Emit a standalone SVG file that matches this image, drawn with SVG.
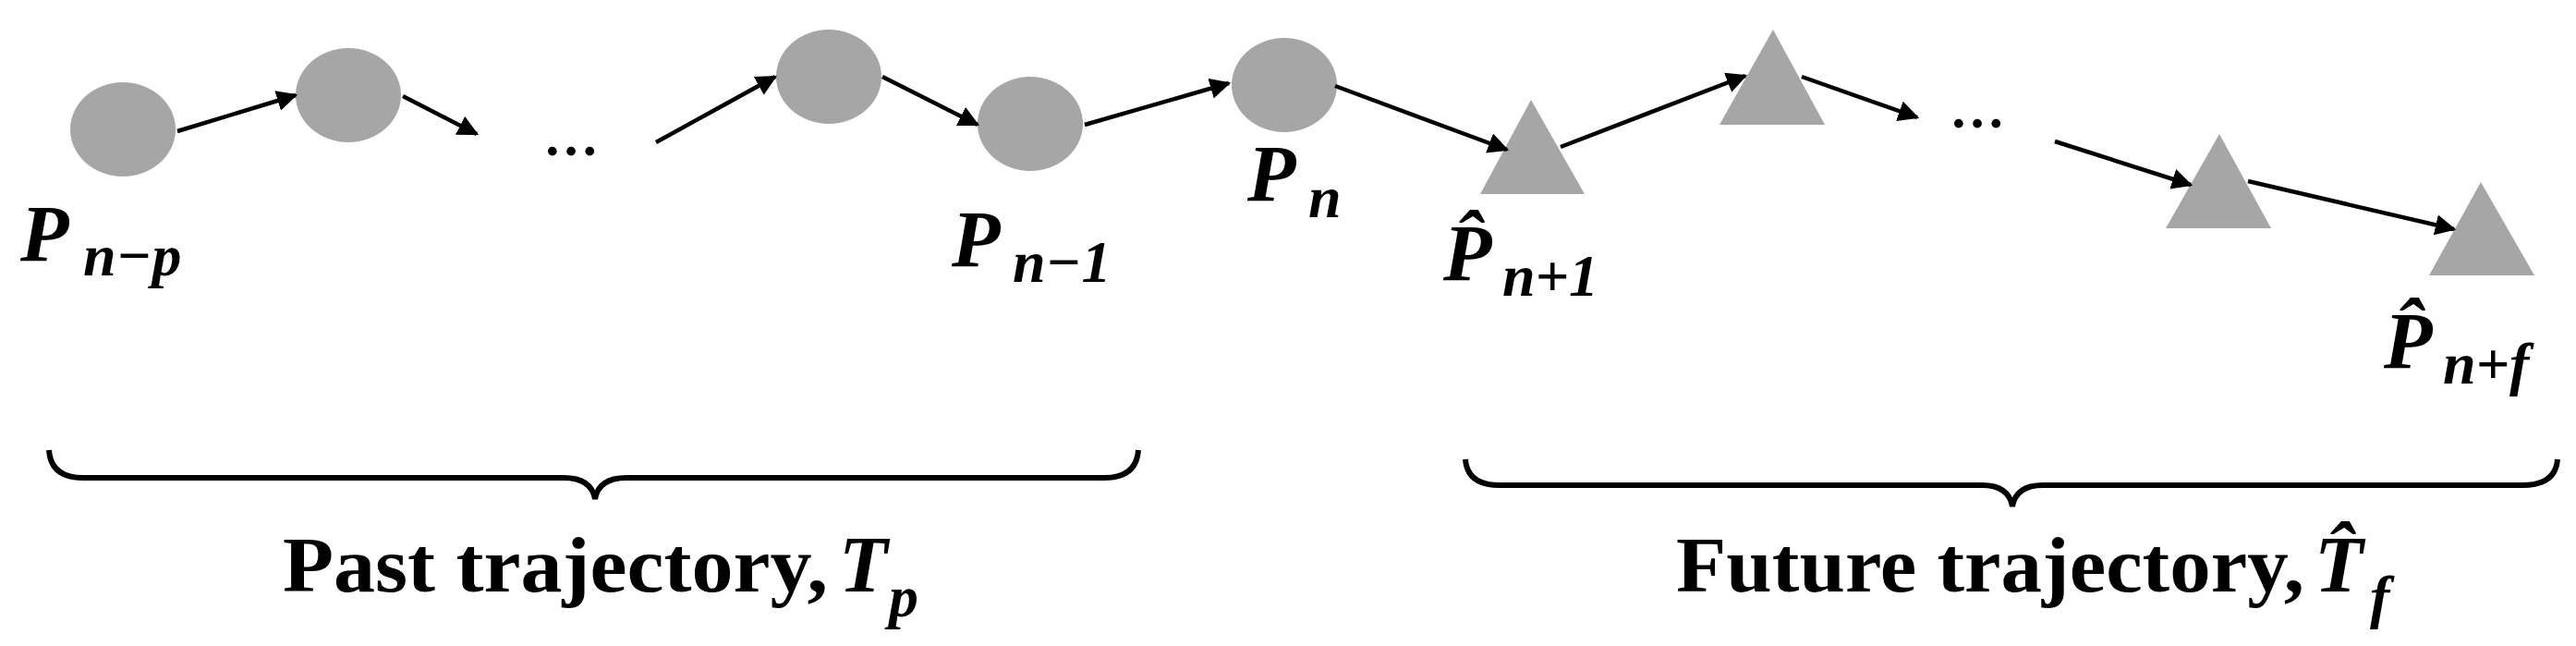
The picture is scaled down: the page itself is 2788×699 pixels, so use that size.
<svg xmlns="http://www.w3.org/2000/svg" width="2788" height="699" viewBox="0 0 2788 699">
<style>
.n{fill:#a6a6a6}
.c line{stroke:#000;stroke-width:4.5;marker-end:url(#ah)}
.lb{font-family:"Liberation Serif",serif;font-weight:bold;font-style:italic;fill:#000}
.big{font-size:86px}
.sub{font-size:64px}
.cap{font-family:"Liberation Serif",serif;font-weight:bold;font-size:84px;fill:#000}
.dots{font-family:"Liberation Serif",serif;font-weight:bold;font-size:60px}
.br{fill:none;stroke:#000;stroke-width:6}
</style>
<defs>
<marker id="ah" viewBox="0 0 10 10" refX="9" refY="5" markerWidth="5" markerHeight="5" orient="auto" markerUnits="strokeWidth">
<path d="M0,0L10,5L0,10z" fill="#000"/>
</marker>
</defs>
<rect width="2788" height="699" fill="#fff"/>
<g id="c1"><ellipse class="n" cx="133" cy="140" rx="57" ry="51"/></g>
<g id="c2"><ellipse class="n" cx="377" cy="103" rx="57" ry="51"/></g>
<g id="c3"><ellipse class="n" cx="897" cy="83" rx="57" ry="51"/></g>
<g id="c4"><ellipse class="n" cx="1115" cy="134" rx="57" ry="51"/></g>
<g id="c5"><ellipse class="n" cx="1390" cy="92" rx="57" ry="51"/></g>
<g id="t1"><polygon class="n" points="1657,108 1602,210 1715,210"/></g>
<g id="t2"><polygon class="n" points="1919,32 1861,135 1975,135"/></g>
<g id="t3"><polygon class="n" points="2402,145 2344,247 2458,247"/></g>
<g id="t4"><polygon class="n" points="2685,197 2629,298 2743,298"/></g>
<g class="c">
<line x1="192" y1="142" x2="320" y2="103"/>
<line x1="436" y1="104" x2="516" y2="145"/>
<line x1="710" y1="154" x2="839" y2="83"/>
<line x1="955" y1="83" x2="1058" y2="135"/>
<line x1="1174" y1="135" x2="1330" y2="90"/>
<line x1="1445" y1="93" x2="1631" y2="162"/>
<line x1="1689" y1="159" x2="1889" y2="82"/>
<line x1="1950" y1="83" x2="2075" y2="127"/>
<line x1="2224" y1="153" x2="2371" y2="200"/>
<line x1="2433" y1="196" x2="2656" y2="248"/>
</g>
<text class="dots" x="588" y="168">…</text>
<text class="dots" x="2110" y="138">…</text>
<g id="l1" class="lb"><text class="big" x="22" y="282">P</text><text class="sub" x="90" y="298">n−p</text></g>
<g id="l2" class="lb"><text class="big" x="1030" y="288">P</text><text class="sub" x="1096" y="305">n−1</text></g>
<g id="l3" class="lb"><text class="big" x="1350" y="217">P</text><text class="sub" x="1416" y="235">n</text></g>
<g id="l4" class="lb"><text class="big" x="1562" y="303">P̂</text><text class="sub" x="1626" y="320">n+1</text></g>
<g id="l5" class="lb"><text class="big" x="2580" y="398">P̂</text><text class="sub" x="2644" y="415">n+f</text></g>
<path class="br" d="M53,487 Q55,517 90,517 L610,517 Q640,517 644,540 Q648,517 678,517 L1195,517 Q1230,517 1232,487"/>
<path class="br" d="M1586,497 Q1588,525 1623,525 L2145,525 Q2174,525 2178,548 Q2182,525 2211,525 L2730,525 Q2766,525 2768,497"/>
<text class="cap" x="306" y="640" textLength="590" lengthAdjust="spacingAndGlyphs">Past trajectory,</text>
<text class="lb big" x="908" y="640">T</text><text class="lb sub" x="962" y="667">p</text>
<text class="cap" x="1814" y="640" textLength="680" lengthAdjust="spacingAndGlyphs">Future trajectory,</text>
<text class="lb big" x="2505" y="640">T̂</text><text class="lb sub" x="2565" y="667">f</text>
</svg>
